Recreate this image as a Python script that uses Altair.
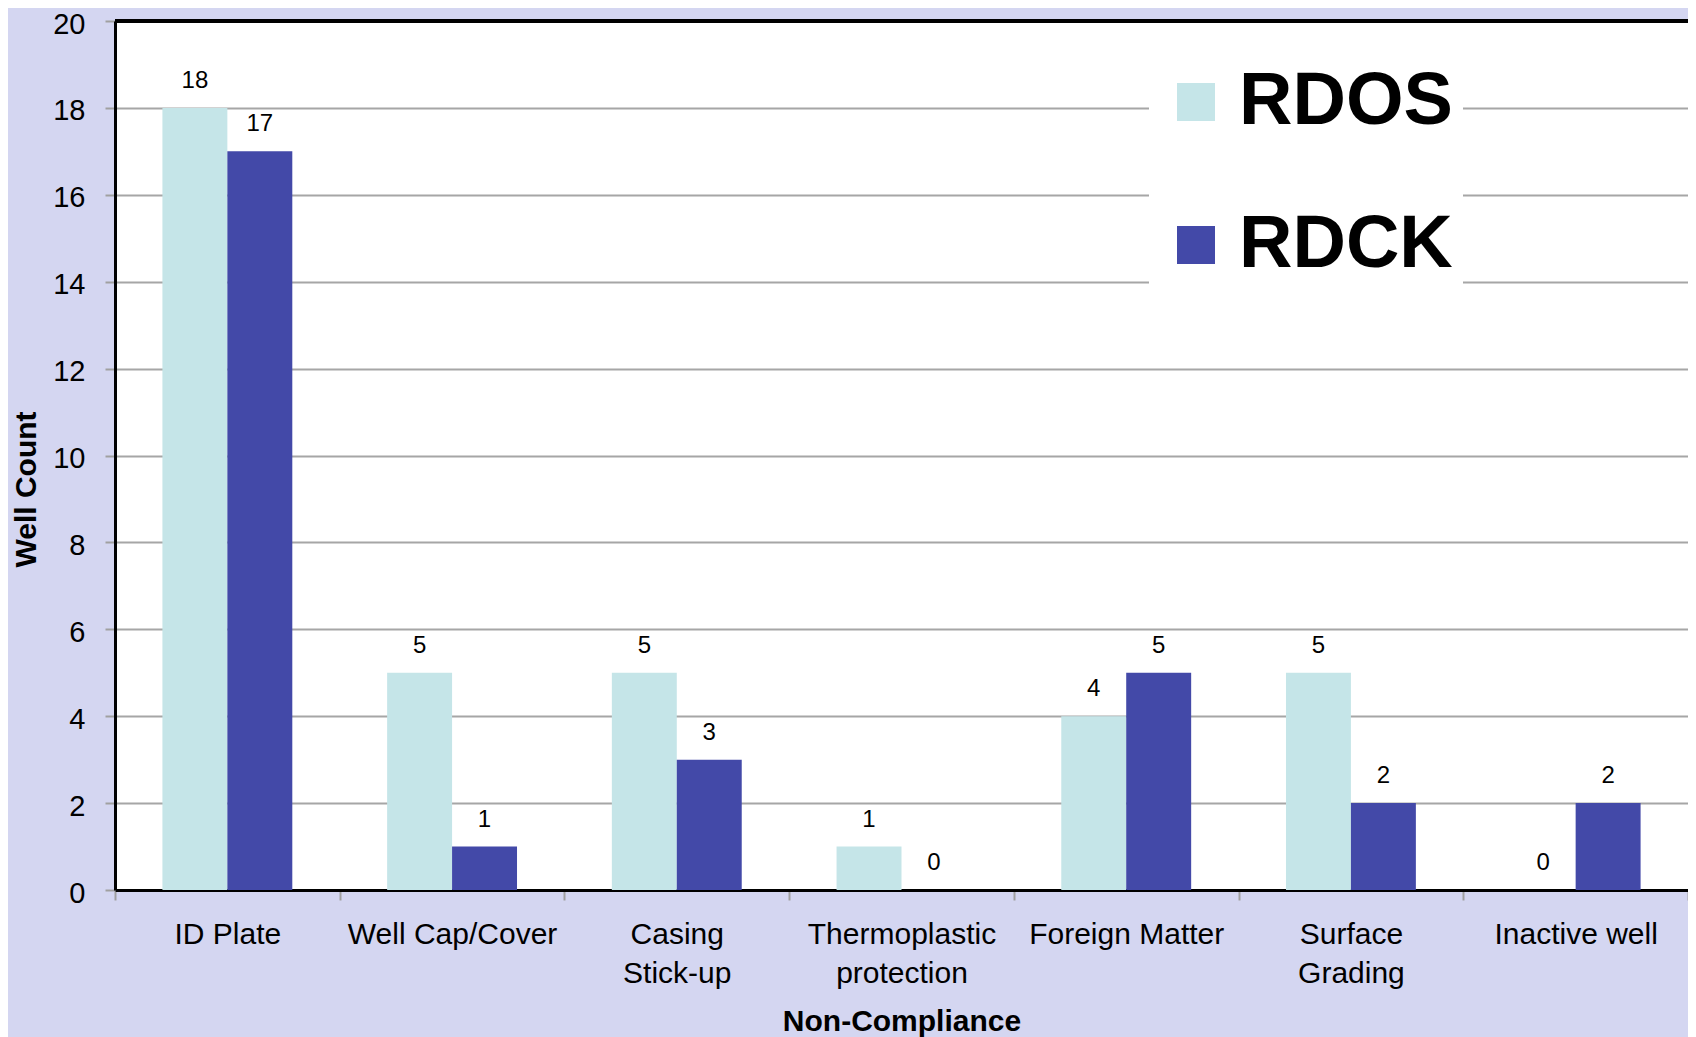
import altair as alt
import pandas as pd

categories = ["ID Plate", "Well Cap/Cover", "Casing\nStick-up", "Thermoplastic\nprotection",
              "Foreign Matter", "Surface\nGrading", "Inactive well"]
series_names = ["RDOS", "RDCK"]
rdos = [18, 5, 5, 1, 4, 5, 0]
rdck = [17, 1, 3, 0, 5, 2, 2]
colors = ["#c5e5e8", "#4349a8"]

rows = []
for c, a, b in zip(categories, rdos, rdck):
    rows.append({"category": c, "series": "RDOS", "count": a})
    rows.append({"category": c, "series": "RDCK", "count": b})
df = pd.DataFrame(rows)

FONT = "Liberation Sans"

x_enc = alt.X("category:N", sort=categories,
              scale=alt.Scale(paddingInner=0, paddingOuter=0),
              axis=alt.Axis(grid=False, domainColor="black", domainWidth=3,
                            tickColor="#a0a0a0", tickSize=10, tickWidth=2, tickBand="extent",
                            labelFontSize=30, labelLineHeight=39, labelBaseline="alphabetic",
                            labelPadding=43, labelAngle=0, labelColor="black", labelFont=FONT,
                            labelExpr="split(datum.label, '\\n')", labelLimit=400,
                            labelOverlap=False,
                            title="Non-Compliance", titleFontSize=30, titleFontWeight="bold",
                            titleFont=FONT, titleColor="black", titleY=140,
                            titleBaseline="alphabetic"))
xo_enc = alt.XOffset("series:N", sort=series_names,
                     scale=alt.Scale(domain=series_names, paddingInner=0, paddingOuter=0.73))
y_enc = alt.Y("count:Q", scale=alt.Scale(domain=[0, 20], nice=False),
              axis=alt.Axis(values=list(range(0, 21, 2)), grid=True, gridColor="#a6a6a6",
                            gridWidth=2, domainColor="black", domainWidth=3,
                            tickColor="#a0a0a0", tickSize=10, tickWidth=2,
                            labelFontSize=29, labelColor="black", labelPadding=20, labelFont=FONT,
                            labelOffset=3,
                            title="Well Count", titleFontSize=30, titleFontWeight="bold",
                            titleFont=FONT, titleColor="black", titleX=-89, titleY=468,
                            titleBaseline="middle", titleAngle=270))

base = alt.Chart(df)

bars = base.mark_bar().encode(
    x=x_enc, xOffset=xo_enc, y=y_enc,
    color=alt.Color("series:N", sort=series_names,
                    scale=alt.Scale(domain=series_names, range=colors),
                    legend=alt.Legend(orient="none", legendX=1034, legendY=34, title=None,
                                      symbolType="square", symbolSize=1444, symbolStrokeWidth=0,
                                      labelFontSize=74, labelFontWeight="bold", labelFont=FONT,
                                      labelColor="black", labelOffset=6, labelLimit=600,
                                      rowPadding=69, padding=10, fillColor="white",
                                      direction="vertical"))
)

labels = base.mark_text(dy=-20, baseline="alphabetic", fontSize=24, font=FONT, color="black").encode(
    x=alt.X("category:N", sort=categories), xOffset=alt.XOffset("series:N", sort=series_names),
    y=alt.Y("count:Q"), text=alt.Text("count:Q")
)

top_rule = alt.Chart(pd.DataFrame({"v": [20]})).mark_rule(color="black", strokeWidth=4).encode(
    y=alt.Y("v:Q")
)

chart = alt.layer(bars, labels, top_rule).properties(
    width=1573, height=869,
    padding={"left": 107, "top": 13, "right": 0, "bottom": 147},
    autosize=alt.AutoSizeParams(type="none"),
    background="#d4d6f1",
).configure(font=FONT).configure_view(fill="white", stroke="transparent")

chart.save("out.html", embed_options={"renderer": "svg", "actions": False})
